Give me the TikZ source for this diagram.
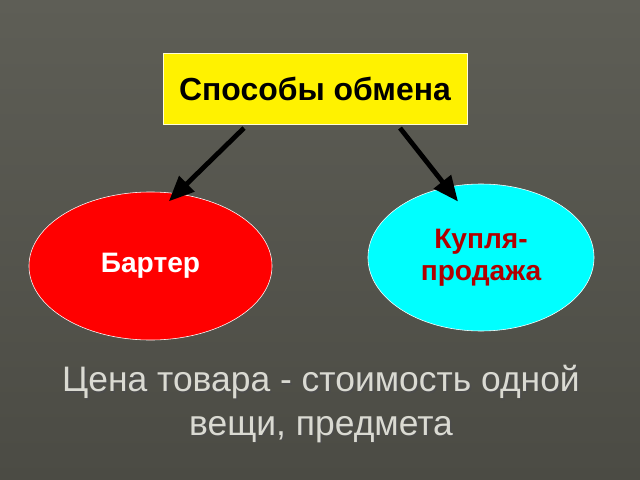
\documentclass[tikz,border=0pt]{standalone}
\usepackage{fontspec}
\setmainfont{Liberation Sans}
\usetikzlibrary{arrows.meta,shapes.geometric}

\definecolor{slidetop}{HTML}{5E5E56}
\definecolor{slidebot}{HTML}{4B4B44}
\definecolor{kpred}{HTML}{B00000}
\definecolor{kpcyan}{HTML}{00FFFF}
\definecolor{notegray}{HTML}{DADAD2}

\begin{document}
\begin{tikzpicture}[x=0.025cm,y=-0.025cm,
    oval/.style={ellipse,draw=white,thin,font=\fontsize{20}{23}\selectfont\bfseries,align=center},
    arr/.style={line width=3.4pt,black,-{Triangle[length=18pt,width=15pt]}}]
            % background of the slide
            \shade[top color=slidetop,bottom color=slidebot] (0,0) rectangle (640,480);
            \useasboundingbox (0,0) rectangle (640,480);
            % heading box
            \node[draw=white!85!yellow,thin,fill=yellow,minimum width=7.6cm,minimum height=1.775cm,
                  font=\fontsize{22.7}{27}\selectfont\bfseries] (ways) at (315,88.5) {Способы обмена};
            % two kinds of exchange
            \node[oval,fill=red,text=white,minimum width=6.075cm,minimum height=3.7cm] (barter) at (150.5,266) {Бартер};
            \node[oval,fill=kpcyan,text=kpred,minimum width=5.65cm,minimum height=3.675cm] (trade) at (481,257.5) {Купля-\\продажа};
            \coordinate (lstart) at (244,128);
            \coordinate (rstart) at (400,128);
            \draw[arr,shorten >=-8pt] (lstart) -- (barter.70);
            \draw[arr,shorten >=-13pt] (rstart) -- (trade.116);
            % note at the bottom
            \node[text=black!70,align=center,font=\fontsize{25.2}{31}\selectfont] (shadow) at (322.5,405.5)
                {Цена товара - стоимость одной\\вещи, предмета};
            \node[text=notegray,align=center,font=\fontsize{25.2}{31}\selectfont] (note) at (321,404)
                {Цена товара - стоимость одной\\вещи, предмета};
\end{tikzpicture}
\end{document}
